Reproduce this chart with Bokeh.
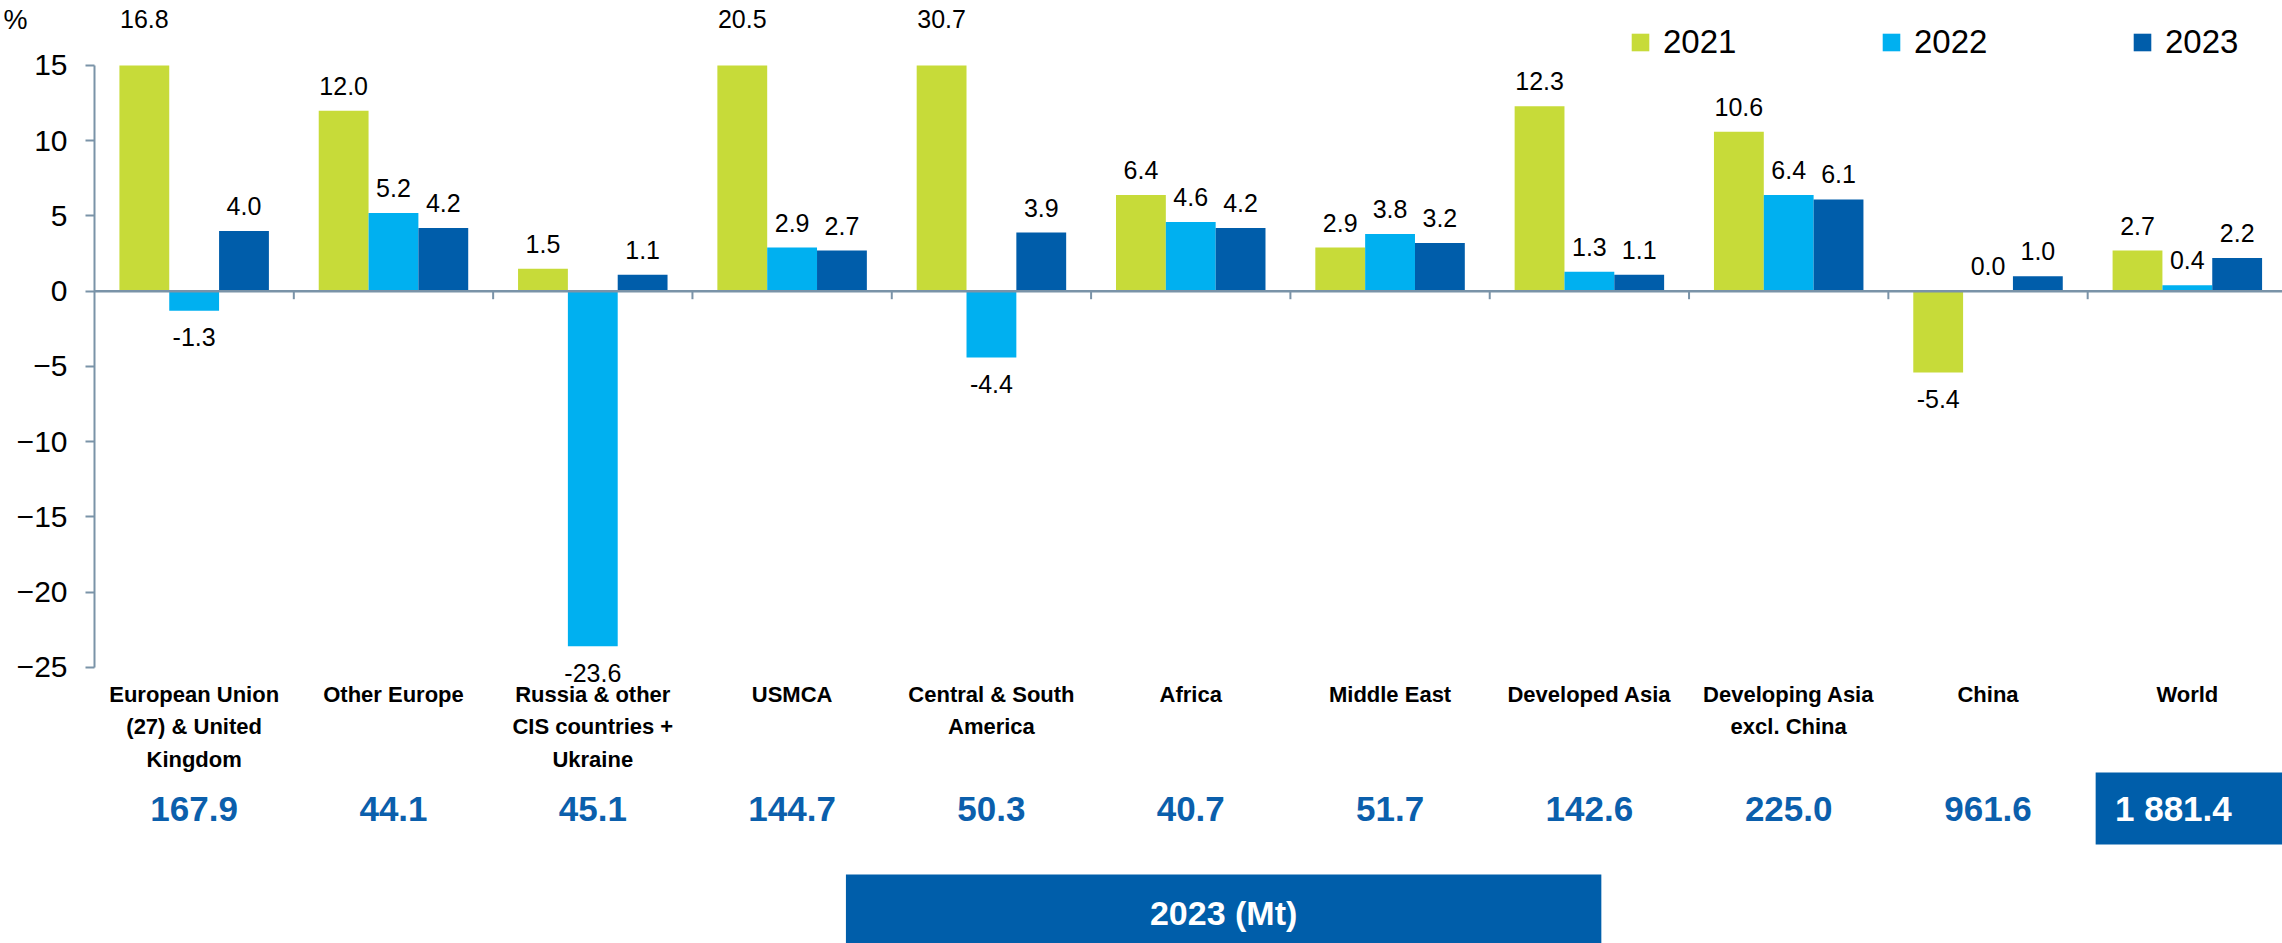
import numpy as np
from bokeh.plotting import figure
from bokeh.models import (Range1d, FixedTicker, Span, Legend, LegendItem, LinearAxis,
                          ColumnDataSource)
from bokeh.core.properties import value
from bokeh.embed import file_html
from bokeh.resources import INLINE

# ---------------- data ----------------
categories = ["European Union\n(27) & United\nKingdom", "Other Europe",
              "Russia & other\nCIS countries +\nUkraine", "USMCA",
              "Central & South\nAmerica", "Africa", "Middle East", "Developed Asia",
              "Developing Asia\nexcl. China", "China", "World"]
years = ["2021", "2022", "2023"]
growth_2021 = [16.8, 12.0, 1.5, 20.5, 30.7, 6.4, 2.9, 12.3, 10.6, -5.4, 2.7]
growth_2022 = [-1.3, 5.2, -23.6, 2.9, -4.4, 4.6, 3.8, 1.3, 6.4, 0.0, 0.4]
growth_2023 = [4.0, 4.2, 1.1, 2.7, 3.9, 4.2, 3.2, 1.1, 6.1, 1.0, 2.2]
production_2023_mt = [167.9, 44.1, 45.1, 144.7, 50.3, 40.7, 51.7, 142.6, 225.0, 961.6, 1881.4]
y_ticks = [-25, -20, -15, -10, -5, 0, 5, 10, 15]
y_cap = 15
box_title = "2023 (Mt)"
unit_label = "%"

# ---------------- styles ----------------
COLORS = ["#C7DB39", "#00B0F0", "#005DAA"]
AXIS = "#7A93A8"
BLUE_TXT = "#0B5FAC"
BOX = "#005EAA"
FONT = "Liberation Sans"

W, H = 2282, 943
LEFT = 92
px_per_unit = 15.047
y_top = 15 + 65 / px_per_unit
y_bot = -(H - 290.7) / px_per_unit
ncat = len(categories)
cat_w = 199.5
x_end = (W - LEFT) / cat_w

p = figure(width=W, height=H, output_backend="svg", toolbar_location=None,
           x_range=Range1d(0, x_end), y_range=Range1d(y_bot, y_top),
           min_border_left=LEFT, min_border_right=0, min_border_top=0, min_border_bottom=0)
p.outline_line_color = None
p.xgrid.visible = False
p.ygrid.visible = False
p.xaxis.visible = False
p.background_fill_color = "white"
p.border_fill_color = "white"

ya = p.yaxis[0]
ya.ticker = FixedTicker(ticks=y_ticks)
ya.bounds = (min(y_ticks), max(y_ticks))
ya.axis_line_color = AXIS
ya.axis_line_width = 2
ya.major_tick_line_color = AXIS
ya.major_tick_line_width = 2
ya.major_tick_out = 9
ya.major_tick_in = 0
ya.minor_tick_line_color = None
ya.major_label_text_font = FONT
ya.major_label_text_font_size = "30px"
ya.major_label_text_color = "black"
ya.major_label_standoff = 18

# unit label "%" at the top of the value axis (extra, line-less axis)
unit_pos = 18
ua = LinearAxis(ticker=FixedTicker(ticks=[unit_pos]), major_label_overrides={unit_pos: unit_label},
                axis_line_color=None, major_tick_line_color=None, minor_tick_line_color=None,
                major_tick_out=0, major_tick_in=0, major_label_standoff=-14,
                major_label_text_font=FONT, major_label_text_font_size="27px",
                major_label_text_color="black")
p.add_layout(ua, "left")

# zero line
p.add_layout(Span(location=0, dimension="width", line_color=AXIS, line_width=2.5))

idx = np.arange(ncat)
# category separator ticks on zero line
sep = idx[1:].astype(float)
p.segment(x0=sep, x1=sep, y0=np.zeros(len(sep)), y1=np.full(len(sep), -8 / px_per_unit),
          line_color=AXIS, line_width=2)

series = [growth_2021, growth_2022, growth_2023]
offsets = [-0.25, 0.0, 0.25]
renderers = []
for s, off, col, yr in zip(series, offsets, COLORS, years):
    v = np.array(s, dtype=float)
    top = np.minimum(v, y_cap)
    x = idx + 0.5 + off
    src = ColumnDataSource(dict(x=x, top=top))
    r = p.vbar(x="x", top="top", bottom=0, width=0.25, source=src,
               fill_color=col, line_color=None)
    renderers.append(r)
    ly = np.where(v > y_cap, y_cap + 3.06, np.where(v >= 0, v + 1.66, v - 1.75))
    lsrc = ColumnDataSource(dict(x=x, y=ly, t=[f"{a:.1f}" for a in v]))
    p.text(x="x", y="y", text="t", source=lsrc, text_align="center", text_baseline="middle",
           text_font=value(FONT), text_font_size="25px", text_color="black")

# category labels
csrc = ColumnDataSource(dict(x=idx + 0.5, y=np.full(ncat, -(681 - 290.7) / px_per_unit), t=categories))
p.text(x="x", y="y", text="t", source=csrc, text_align="center", text_baseline="top",
       text_font=value(FONT), text_font_style="bold", text_font_size="22px",
       text_color="black", text_line_height=1.3)

# production values
def fmt(v):
    return f"{v:,.1f}".replace(",", " ")

y_mt = -(808 - 290.7) / px_per_unit
world = ncat - 1
p.quad(left=[world + 0.04], right=[world + 1.0], top=[-(772 - 290.7) / px_per_unit],
       bottom=[-(844 - 290.7) / px_per_unit], fill_color=BOX, line_color=None)
mx = (idx + 0.5).astype(float)
mx[world] = world + 0.43
mcol = [BLUE_TXT] * (ncat - 1) + ["white"]
msrc = ColumnDataSource(dict(x=mx, y=np.full(ncat, y_mt), t=[fmt(v) for v in production_2023_mt], c=mcol))
p.text(x="x", y="y", text="t", text_color="c", source=msrc, text_align="center",
       text_baseline="middle", text_font=value(FONT), text_font_style="bold",
       text_font_size="35px")

# 2023 (Mt) box
bl = 3.77
br = 7.56
p.quad(left=[bl], right=[br], top=[-(874 - 290.7) / px_per_unit], bottom=[y_bot],
       fill_color=BOX, line_color=None)
p.text(x=[(bl + br) / 2], y=[-(912 - 290.7) / px_per_unit], text=[box_title], text_align="center",
       text_baseline="middle", text_font=value(FONT), text_font_style="bold",
       text_font_size="34px", text_color="white")

# legend
legend = Legend(items=[LegendItem(label=yr, renderers=[r]) for yr, r in zip(years, renderers)],
                orientation="horizontal", location=(1535, 882),
                glyph_width=22, glyph_height=22, label_standoff=12, spacing=137,
                label_width=80, padding=0, margin=0,
                label_text_font=FONT, label_text_font_size="33px",
                label_text_color="black", background_fill_alpha=0, border_line_color=None)
p.add_layout(legend)

open("out.html", "w").write(file_html(p, INLINE))
